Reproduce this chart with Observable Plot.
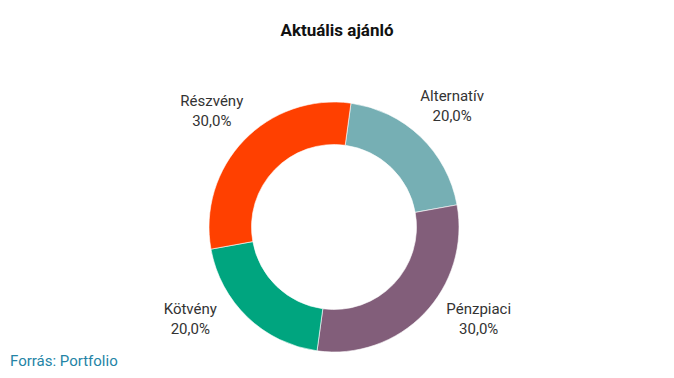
<!DOCTYPE html>
<html>
<head>
<meta charset="utf-8">
<script src="https://cdn.jsdelivr.net/npm/d3@7"></script>
<script src="https://cdn.jsdelivr.net/npm/@observablehq/plot@0.6"></script>
<style>
  html, body { margin: 0; padding: 0; background: #fff; }
  body { width: 674px; height: 378px; overflow: hidden; font-family: Roboto, sans-serif; }
  #title { height: 50px; line-height: 60px; text-align: center; font-weight: 700; font-size: 17px; color: #111; }
  #caption { position: absolute; left: 10px; top: 352px; font-size: 15px; color: #2484a6; }
  #chart svg { display: block; }
</style>
</head>
<body>
<div id="title">Aktuális ajánló</div>
<div id="chart"></div>
<div id="caption">Forrás: Portfolio</div>
<script>
const categories = ["Alternatív", "Pénzpiaci", "Kötvény", "Részvény"];
const shares = [20, 30, 20, 30];
const colors = ["#76afb4", "#825e7a", "#00a57f", "#ff4000"];

const rows = categories.map((name, i) => ({name, value: shares[i], color: colors[i]}));
const total = d3.sum(shares);

const startOffset = 7.8 * Math.PI / 180;
const pie = d3.pie().value(d => d.value).sort(null)
  .startAngle(startOffset).endAngle(startOffset + 2 * Math.PI);
const arcs = pie(rows);

const innerFrac = 0.66;
const labelR = 1.36;
const labels = arcs.map(a => {
  const mid = (a.startAngle + a.endAngle) / 2;
  let x = Math.sin(mid) * labelR;
  let y = Math.cos(mid) * labelR;
  if (y < -0.72) {
    y = -0.72;
    x = Math.sign(x) * Math.sqrt(labelR * labelR - y * y);
  }
  const pct = (a.data.value / total * 100).toFixed(1).replace(".", ",") + "%";
  return {x, y, text: a.data.name + "\n" + pct};
});

const W = 674, H = 302, cx = 334, cy = 177, R = 125;

function donut(index, scales) {
  const ox = scales.x(0), oy = scales.y(0);
  const rOuter = scales.x(1) - ox;
  const rInner = scales.x(innerFrac) - ox;
  const arc = d3.arc().innerRadius(rInner).outerRadius(rOuter);
  const g = d3.create("svg:g").attr("transform", `translate(${ox},${oy})`);
  g.selectAll("path").data(arcs).join("path")
    .attr("d", arc)
    .attr("fill", d => d.data.color)
    .attr("stroke", "#fff")
    .attr("stroke-width", 0.6);
  return g.node();
}

const chart = Plot.plot({
  width: W,
  height: H,
  margin: 0,
  x: {domain: [-1, 1], range: [cx - R, cx + R], axis: null},
  y: {domain: [-1, 1], range: [cy + R, cy - R], axis: null},
  style: {fontFamily: "Roboto, sans-serif", fontSize: "15px", background: "#fff"},
  marks: [
    donut,
    Plot.text(labels, {
      x: "x", y: "y", text: "text",
      fontSize: 15, lineHeight: 1.33, fill: "#333", textAnchor: "middle"
    })
  ]
});
document.getElementById("chart").appendChild(chart);
</script>
</body>
</html>
